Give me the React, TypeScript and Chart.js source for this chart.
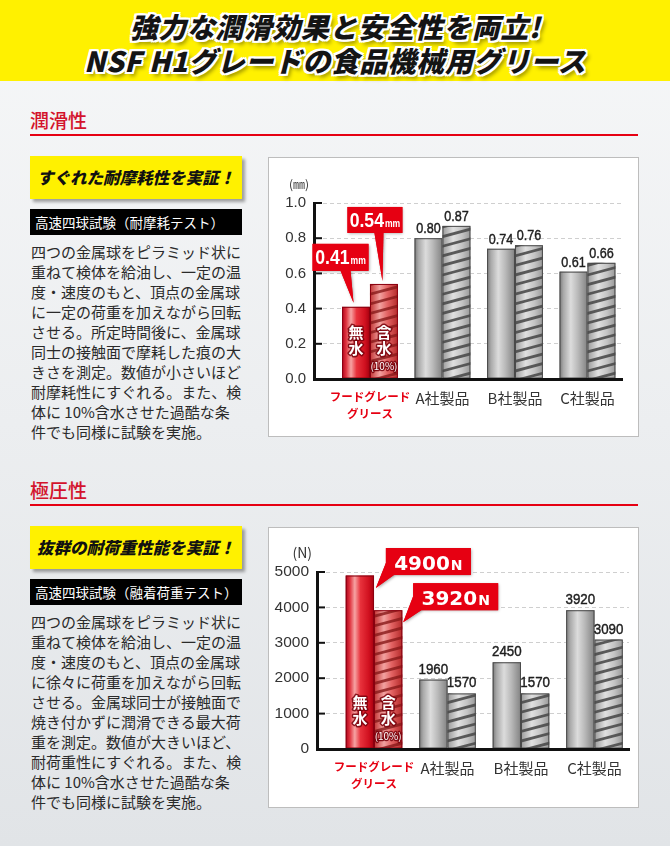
import React, { useEffect, useRef } from 'react';
import { Chart, registerables } from 'chart.js';
Chart.register(...registerables);

// ---------- data ----------
const categories: (string | string[])[] = [['フードグレード', 'グリース'], 'A社製品', 'B社製品', 'C社製品'];
const wearDry = [0.41, 0.80, 0.74, 0.61];
const wearWet = [0.54, 0.87, 0.76, 0.66];
const wearTickLabels = ['0.0', '0.2', '0.4', '0.6', '0.8', '1.0'];
const loadDry = [4900, 1960, 2450, 3920];
const loadWet = [3920, 1570, 1570, 3090];
const loadTickLabels = ['0', '1000', '2000', '3000', '4000', '5000'];

const wearLines = [
  '四つの金属球をピラミッド状に',
  '重ねて検体を給油し、一定の温',
  '度・速度のもと、頂点の金属球',
  'に一定の荷重を加えながら回転',
  'させる。所定時間後に、金属球',
  '同士の接触面で摩耗した痕の大',
  'きさを測定。数値が小さいほど',
  '耐摩耗性にすぐれる。また、検',
  '体に 10%含水させた過酷な条',
  '件でも同様に試験を実施。',
];
const loadLines = [
  '四つの金属球をピラミッド状に',
  '重ねて検体を給油し、一定の温',
  '度・速度のもと、頂点の金属球',
  'に徐々に荷重を加えながら回転',
  'させる。金属球同士が接触面で',
  '焼き付かずに潤滑できる最大荷',
  '重を測定。数値が大きいほど、',
  '耐荷重性にすぐれる。また、検',
  '体に 10%含水させた過酷な条',
  '件でも同様に試験を実施。',
];

// ---------- styles ----------
const JP = '"Noto Sans CJK JP", "Noto Sans", sans-serif';
const NUM = '"Liberation Sans", Arial, sans-serif';
const WIDE = '"DejaVu Sans", "Liberation Sans", sans-serif';
const RED = '#e60012';

type Callout = { ds: number; tip: [number, number]; box: [number, number, number, number]; p1: [number, number]; p2: [number, number] };

type ChartParams = {
  dry: number[];
  wet: number[];
  max: number;
  step: number;
  tickLabels: string[];
  unit: string;
  unitFont: string;
  yWidth: number;
  xHeight: number;
  padTop: number;
  padRight: number;
  yFontSize: number;
  xMin: number;
  xMax: number;
  valueFmt: (v: number) => string;
  valueFont: string;
  valueScale: number;
  valueDy: number;
  callouts: Callout[];
  calloutFmt: (v: number) => string;
  calloutMainFont: string;
  calloutMainScale: number;
  calloutUnit: string;
  calloutUnitFont: string;
  calloutUnitScale: number;
  calloutBaseline: number;
};

// draw horizontally scaled (condensed) text, left aligned at x
function scaledText(ctx: CanvasRenderingContext2D, text: string, x: number, y: number, font: string, sx: number, strokeW = 0) {
  ctx.save();
  ctx.font = font;
  ctx.textAlign = 'left';
  ctx.translate(x, y);
  ctx.scale(sx, 1);
  if (strokeW > 0) {
    ctx.strokeStyle = ctx.fillStyle as string;
    ctx.lineWidth = strokeW;
    ctx.strokeText(text, 0, 0);
  }
  ctx.fillText(text, 0, 0);
  ctx.restore();
}
function scaledWidth(ctx: CanvasRenderingContext2D, text: string, font: string, sx: number) {
  ctx.save();
  ctx.font = font;
  const w = ctx.measureText(text).width * sx;
  ctx.restore();
  return w;
}

function barGradient(ctx: CanvasRenderingContext2D, l: number, r: number, red: boolean, hatched: boolean) {
  const g = ctx.createLinearGradient(l, 0, r, 0);
  if (red && !hatched) {
    g.addColorStop(0, '#b0001a');
    g.addColorStop(0.15, '#e03540');
    g.addColorStop(0.32, '#f6a3a3');
    g.addColorStop(0.52, '#e8323c');
    g.addColorStop(0.82, '#d0101f');
    g.addColorStop(1, '#a5000f');
  } else if (red) {
    g.addColorStop(0, '#c23434');
    g.addColorStop(0.35, '#f2a2a0');
    g.addColorStop(0.62, '#e36464');
    g.addColorStop(1, '#b52a2a');
  } else if (!hatched) {
    g.addColorStop(0, '#7a7a7a');
    g.addColorStop(0.14, '#a9a9a9');
    g.addColorStop(0.4, '#dcdcdc');
    g.addColorStop(0.65, '#bababa');
    g.addColorStop(1, '#828282');
  } else {
    g.addColorStop(0, '#9a9a9a');
    g.addColorStop(0.38, '#e0e0e0');
    g.addColorStop(0.7, '#c4c4c4');
    g.addColorStop(1, '#999999');
  }
  return g;
}

function makePlugin(p: ChartParams) {
  return {
    id: 'paint',
    afterDatasetsDraw(chart: any) {
      const ctx: CanvasRenderingContext2D = chart.ctx;
      chart.data.datasets.forEach((_ds: any, di: number) => {
        const meta = chart.getDatasetMeta(di);
        meta.data.forEach((el: any, i: number) => {
          const { x, y, base, width } = el.getProps(['x', 'y', 'base', 'width'], true);
          const l = x - width / 2;
          const r = x + width / 2;
          const red = i === 0;
          const hatched = di === 1;
          ctx.save();
          ctx.fillStyle = barGradient(ctx, l, r, red, hatched);
          ctx.fillRect(l, y, width, base - y);
          if (hatched) {
            ctx.save();
            ctx.beginPath();
            ctx.rect(l, y, width, base - y);
            ctx.clip();
            ctx.strokeStyle = red ? 'rgba(135,25,25,0.8)' : 'rgba(75,75,75,0.9)';
            ctx.lineWidth = 2.8;
            for (let yy = base + 12; yy > y - 12; yy -= 9.6) {
              ctx.beginPath();
              ctx.moveTo(l - 1, yy);
              ctx.lineTo(r + 1, yy - 8);
              ctx.stroke();
            }
            ctx.restore();
          }
          ctx.strokeStyle = red ? '#8a0010' : '#4a4a4a';
          ctx.lineWidth = 1;
          ctx.strokeRect(l + 0.5, y + 0.5, width - 1, base - y - 1);
          if (red) {
            ctx.textAlign = 'center';
            ctx.textBaseline = 'middle';
            ctx.lineJoin = 'round';
            const words = hatched ? ['含', '水'] : ['無', '水'];
            ctx.font = `bold 15px ${JP}`;
            words.forEach((w, k) => {
              const ty = base - 46 + k * 16;
              ctx.strokeStyle = 'rgba(120,0,10,0.85)';
              ctx.lineWidth = 3;
              ctx.strokeText(w, x, ty);
              ctx.fillStyle = '#fff';
              ctx.fillText(w, x, ty);
            });
            if (hatched) {
              ctx.font = `10px ${JP}`;
              ctx.strokeStyle = 'rgba(120,0,10,0.85)';
              ctx.lineWidth = 2.5;
              ctx.strokeText('(10%)', x, base - 12);
              ctx.fillStyle = '#fff';
              ctx.fillText('(10%)', x, base - 12);
            }
          } else {
            const v = chart.data.datasets[di].data[i].y;
            const s = p.valueFmt(v);
            ctx.fillStyle = '#1e1e1e';
            ctx.textBaseline = 'alphabetic';
            const w = scaledWidth(ctx, s, p.valueFont, p.valueScale);
            scaledText(ctx, s, x - w / 2, y - p.valueDy, p.valueFont, p.valueScale, 0.45);
          }
          ctx.restore();
        });
      });
    },
    afterDraw(chart: any) {
      const ctx: CanvasRenderingContext2D = chart.ctx;
      const area = chart.chartArea;
      const ys = chart.scales.y;
      ctx.save();
      ctx.strokeStyle = '#111';
      ctx.lineWidth = 2;
      ys.ticks.forEach((t: any) => {
        if (t.value === 0) return;
        const py = ys.getPixelForValue(t.value);
        ctx.beginPath();
        ctx.moveTo(area.left, py);
        ctx.lineTo(area.left + 8, py);
        ctx.stroke();
      });
      ctx.font = p.unitFont;
      ctx.fillStyle = '#333';
      ctx.textAlign = 'right';
      ctx.textBaseline = 'middle';
      ctx.fillText(p.unit, area.left - 5, area.top - 19);
      ctx.restore();

      p.callouts.forEach((c) => {
        const el = chart.getDatasetMeta(c.ds).data[0];
        const { x, y } = el.getProps(['x', 'y'], true);
        const tx = x + c.tip[0];
        const ty = y + c.tip[1];
        const bx = tx + c.box[0];
        const by = ty + c.box[1];
        const bw = c.box[2];
        const bh = c.box[3];
        const shape = (shadow: boolean) => {
          ctx.save();
          if (shadow) {
            ctx.shadowColor = 'rgba(0,0,0,0.35)';
            ctx.shadowBlur = 3;
            ctx.shadowOffsetX = 1;
            ctx.shadowOffsetY = 1;
          }
          ctx.fillStyle = RED;
          ctx.fillRect(bx, by, bw, bh);
          ctx.beginPath();
          ctx.moveTo(tx + c.p1[0], ty + c.p1[1]);
          ctx.lineTo(tx + c.p2[0], ty + c.p2[1]);
          ctx.lineTo(tx, ty);
          ctx.closePath();
          ctx.fill();
          ctx.restore();
        };
        shape(true);
        shape(false);
        const v = chart.data.datasets[c.ds].data[0].y;
        const main = p.calloutFmt(v);
        ctx.save();
        ctx.fillStyle = '#fff';
        ctx.textBaseline = 'alphabetic';
        const wm = scaledWidth(ctx, main, p.calloutMainFont, p.calloutMainScale);
        const wu = scaledWidth(ctx, p.calloutUnit, p.calloutUnitFont, p.calloutUnitScale);
        const sx = bx + (bw - wm - wu - 1) / 2;
        scaledText(ctx, main, sx, by + p.calloutBaseline, p.calloutMainFont, p.calloutMainScale);
        scaledText(ctx, p.calloutUnit, sx + wm + 1, by + p.calloutBaseline, p.calloutUnitFont, p.calloutUnitScale);
        ctx.restore();
      });
    },
  };
}

function makeConfig(p: ChartParams): any {
  return {
    type: 'bar',
    data: {
      datasets: [
        {
          label: '無水',
          data: p.dry.map((v, i) => ({ x: i, y: v })),
          backgroundColor: '#b8b8b8',
          borderWidth: 0,
          categoryPercentage: 0.77,
          barPercentage: 1,
        },
        {
          label: '含水(10%)',
          data: p.wet.map((v, i) => ({ x: i, y: v })),
          backgroundColor: '#c8c8c8',
          borderWidth: 0,
          categoryPercentage: 0.77,
          barPercentage: 1,
        },
      ],
    },
    options: {
      responsive: false,
      animation: false,
      devicePixelRatio: 1,
      layout: { padding: { left: 0, right: p.padRight, top: p.padTop, bottom: 0 } },
      plugins: { legend: { display: false }, tooltip: { enabled: false } },
      scales: {
        x: {
          type: 'linear',
          offset: false,
          bounds: 'data',
          min: p.xMin,
          max: p.xMax,
          grid: { display: false, drawTicks: false, offset: false },
          border: { display: true, color: '#111', width: 3, z: 1 },
          afterBuildTicks: (s: any) => {
            s.ticks = categories.map((_c, i) => ({ value: i }));
          },
          afterFit: (s: any) => {
            s.height = p.xHeight;
          },
          ticks: {
            autoSkip: false,
            maxRotation: 0,
            minRotation: 0,
            padding: 10,
            color: (c: any) => (c.index === 0 ? RED : '#333'),
            font: (c: any) =>
              c.index === 0
                ? { family: JP, size: 11.5, weight: 'bold', lineHeight: 1.4 }
                : { family: JP, size: 15, weight: 'normal', lineHeight: 1.2 },
            callback: (v: number) => categories[v] as any,
          },
        },
        y: {
          min: 0,
          max: p.max,
          ticks: {
            stepSize: p.step,
            padding: 8,
            color: '#333',
            font: { family: NUM, size: p.yFontSize },
            callback: (_v: number, i: number) => p.tickLabels[i],
          },
          grid: { color: '#cfcfcf', lineWidth: 1, drawTicks: false },
          border: { display: true, color: '#111', width: 3, dash: [4, 3], z: 1 },
          afterFit: (s: any) => {
            s.width = p.yWidth;
          },
        },
      },
    },
    plugins: [makePlugin(p)],
  };
}

const wearParams: ChartParams = {
  dry: wearDry,
  wet: wearWet,
  max: 1.0,
  step: 0.2,
  tickLabels: wearTickLabels,
  unit: '(㎜)',
  unitFont: `12px ${JP}`,
  yWidth: 46,
  xHeight: 58,
  padTop: 46,
  padRight: 17,
  yFontSize: 15,
  xMin: -0.772,
  xMax: 3.476,
  valueFmt: (v) => v.toFixed(2),
  valueFont: `15px ${NUM}`,
  valueScale: 0.84,
  valueDy: 5,
  callouts: [
    { ds: 0, tip: [-2.5, -4], box: [-41, -59, 56, 27], p1: [-13, -32], p2: [-3, -32] },
    { ds: 1, tip: [-1.5, -3], box: [-35, -74, 55, 26], p1: [-8, -48], p2: [1, -48] },
  ],
  calloutFmt: (v) => v.toFixed(2),
  calloutMainFont: `bold 21px ${NUM}`,
  calloutMainScale: 0.84,
  calloutUnit: 'mm',
  calloutUnitFont: `bold 11px ${NUM}`,
  calloutUnitScale: 0.78,
  calloutBaseline: 20,
};

const loadParams: ChartParams = {
  dry: loadDry,
  wet: loadWet,
  max: 5000,
  step: 1000,
  tickLabels: loadTickLabels,
  unit: '(N)',
  unitFont: `14px ${JP}`,
  yWidth: 49,
  xHeight: 59,
  padTop: 45,
  padRight: 10,
  yFontSize: 15.5,
  xMin: -0.776,
  xMax: 3.47,
  valueFmt: (v) => String(v),
  valueFont: `15.5px ${NUM}`,
  valueScale: 0.86,
  valueDy: 6,
  callouts: [
    { ds: 0, tip: [16, 12.5], box: [10, -40, 85, 27], p1: [10, -25], p2: [18, -13] },
    { ds: 1, tip: [15, 12], box: [10, -39, 85, 27], p1: [10, -26], p2: [18, -12] },
  ],
  calloutFmt: (v) => String(v),
  calloutMainFont: `bold 20px ${WIDE}`,
  calloutMainScale: 1,
  calloutUnit: 'N',
  calloutUnitFont: `bold 14px ${WIDE}`,
  calloutUnitScale: 1,
  calloutBaseline: 22,
};

function BarChart({ params, width, height }: { params: ChartParams; width: number; height: number }) {
  const ref = useRef<HTMLCanvasElement>(null);
  useEffect(() => {
    const chart = new Chart(ref.current as HTMLCanvasElement, makeConfig(params));
    return () => chart.destroy();
  }, [params]);
  return <canvas ref={ref} width={width} height={height} style={{ display: 'block', width, height }} />;
}

function Section(props: {
  top: number;
  title: string;
  callout: string;
  barText: string;
  lines: string[];
  chartTop: number;
  chartHeight: number;
  params: ChartParams;
}) {
  const t = props.top;
  return (
    <>
      <div
        style={{
          position: 'absolute',
          left: 30,
          top: t,
          height: 22,
          lineHeight: '22px',
          fontSize: 19,
          fontWeight: 500,
          color: '#d3132c',
          whiteSpace: 'nowrap',
        }}
      >
        {props.title}
      </div>
      <div style={{ position: 'absolute', left: 30, top: t + 25, width: 608, height: 2, background: '#e60012' }} />
      <div
        style={{
          position: 'absolute',
          left: 30,
          top: t + 47,
          width: 212,
          height: 43,
          background: '#fff100',
          boxShadow: '3px 3px 3px rgba(0,0,0,0.35)',
          textAlign: 'center',
          lineHeight: '43px',
          fontSize: 16.5,
          fontWeight: 900,
          fontStyle: 'italic',
          color: '#111',
          whiteSpace: 'nowrap',
        }}
      >
        {props.callout}
      </div>
      <div
        style={{
          position: 'absolute',
          left: 30,
          top: t + 100,
          width: 212,
          height: 26,
          background: '#000',
          color: '#fff',
          fontSize: 13.5,
          lineHeight: '26px',
          paddingLeft: 5,
          boxSizing: 'border-box',
          whiteSpace: 'nowrap',
        }}
      >
        {props.barText}
      </div>
      <div
        style={{
          position: 'absolute',
          left: 31,
          top: t + 133,
          fontSize: 15,
          lineHeight: '20px',
          color: '#2a2a2a',
          whiteSpace: 'nowrap',
        }}
      >
        {props.lines.map((l, i) => (
          <div key={i}>{l}</div>
        ))}
      </div>
      <div
        style={{
          position: 'absolute',
          left: 268,
          top: props.chartTop,
          width: 371,
          height: props.chartHeight,
          background: '#fff',
          boxShadow: 'inset 0 0 0 1px #bdbdbd',
        }}
      >
        <BarChart params={props.params} width={371} height={props.chartHeight} />
      </div>
    </>
  );
}

const titleShadow = [
  '-2px -2px 0 #fff',
  '2px -2px 0 #fff',
  '-2px 2px 0 #fff',
  '2px 2px 0 #fff',
  '0 -2px 0 #fff',
  '0 2px 0 #fff',
  '-2px 0 0 #fff',
  '2px 0 0 #fff',
  '3px 4px 4px rgba(0,0,0,0.45)',
].join(', ');

export default function App() {
  return (
    <div
      style={{
        position: 'absolute',
        left: 0,
        top: 0,
        width: 670,
        height: 846,
        overflow: 'hidden',
        background: 'linear-gradient(180deg, #f6f7f8 0%, #eceef0 50%, #e1e4e7 100%)',
        fontFamily: JP,
      }}
    >
      <div style={{ position: 'absolute', left: 0, top: 0, width: 670, height: 81, background: '#fff100' }} />
      <div
        style={{
          position: 'absolute',
          left: 0,
          top: 9,
          width: 670,
          textAlign: 'center',
          fontSize: 28,
          lineHeight: '34px',
          fontWeight: 900,
          fontStyle: 'italic',
          letterSpacing: 0.5,
          color: '#141414',
          textShadow: titleShadow,
          whiteSpace: 'nowrap',
        }}
      >
        <div>強力な潤滑効果と安全性を両立!</div>
        <div>NSF H1グレードの食品機械用グリース</div>
      </div>
      <Section
        top={109}
        title="潤滑性"
        callout="すぐれた耐摩耗性を実証！"
        barText="高速四球試験（耐摩耗テスト）"
        lines={wearLines}
        chartTop={157}
        chartHeight={280}
        params={wearParams}
      />
      <Section
        top={479}
        title="極圧性"
        callout="抜群の耐荷重性能を実証！"
        barText="高速四球試験（融着荷重テスト）"
        lines={loadLines}
        chartTop={527}
        chartHeight={281}
        params={loadParams}
      />
    </div>
  );
}
